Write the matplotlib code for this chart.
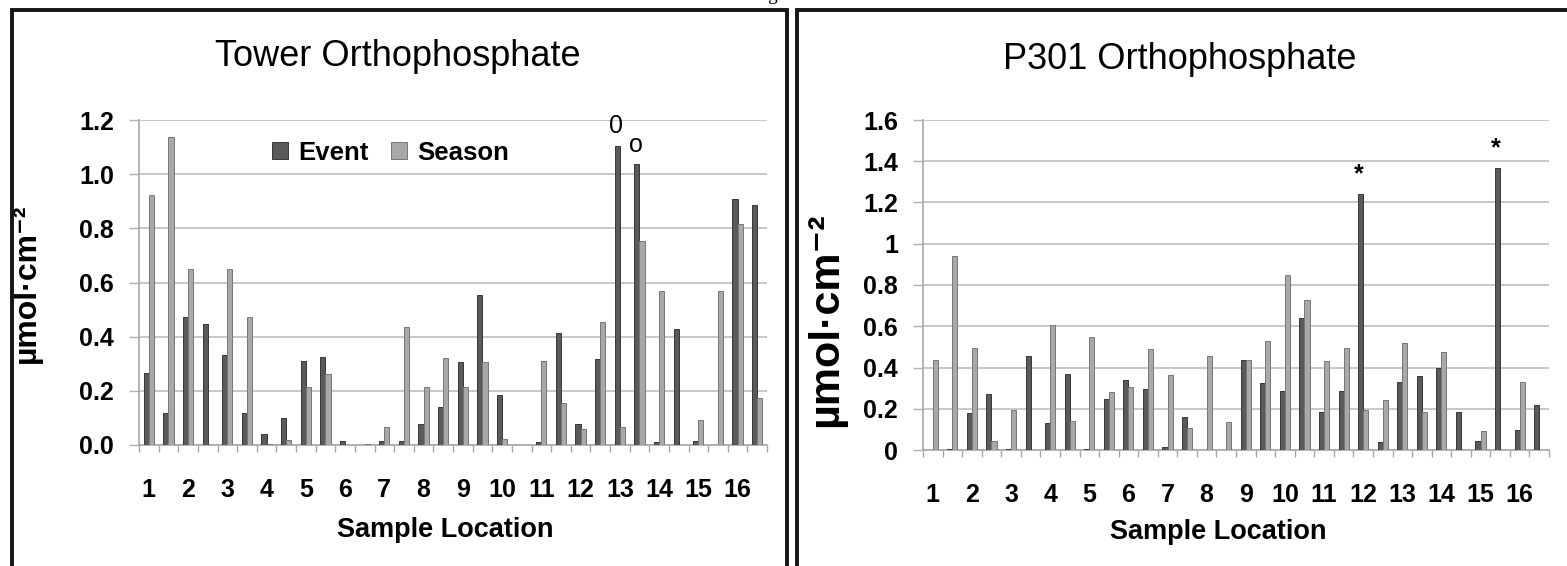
from __future__ import annotations

import matplotlib

matplotlib.use("Agg")
import matplotlib.pyplot as plt
import numpy as np
from matplotlib.patches import Rectangle
from matplotlib.ticker import FixedLocator, FuncFormatter

plt.rcParams["font.family"] = ["Liberation Sans", "DejaVu Sans"]

# 32 sampling positions, two per sample location (only every other one is labelled)
sample_labels = ["1", "2", "3", "4", "5", "6", "7", "8",
                 "9", "10", "11", "12", "13", "14", "15", "16"]

tower_event = [0.265, 0.117, 0.471, 0.447, 0.332, 0.117, 0.041, 0.098,
               0.311, 0.326, 0.016, 0.0, 0.016, 0.016, 0.076, 0.139,
               0.306, 0.554, 0.185, 0.0, 0.012, 0.415, 0.078, 0.316,
               1.105, 1.036, 0.012, 0.428, 0.015, 0.0, 0.907, 0.886]
tower_season = [0.923, 1.138, 0.650, 0.0, 0.650, 0.471, 0.005, 0.018,
                0.215, 0.262, 0.0, 0.005, 0.065, 0.437, 0.215, 0.320,
                0.215, 0.305, 0.022, 0.0, 0.311, 0.154, 0.059, 0.453,
                0.068, 0.753, 0.569, 0.0, 0.092, 0.569, 0.815, 0.172]
tower_flags = {24: "0", 25: "o"}

p301_event = [0.0, 0.003, 0.178, 0.270, 0.003, 0.457, 0.129, 0.368,
              0.003, 0.246, 0.339, 0.296, 0.013, 0.162, 0.0, 0.0,
              0.436, 0.326, 0.288, 0.638, 0.186, 0.288, 1.240, 0.040,
              0.331, 0.359, 0.400, 0.186, 0.045, 1.369, 0.097, 0.218]
p301_season = [0.436, 0.942, 0.493, 0.045, 0.194, 0.0, 0.606, 0.142,
               0.550, 0.283, 0.304, 0.488, 0.364, 0.105, 0.457, 0.134,
               0.436, 0.530, 0.849, 0.727, 0.433, 0.493, 0.194, 0.242,
               0.517, 0.186, 0.474, 0.0, 0.092, 0.0, 0.331, 0.0]
p301_flags = {22: "*", 29: "*"}

W, H = 1567, 566
DARK, DARK_EDGE = "#5a5a5a", "#383838"
LIGHT, LIGHT_EDGE = "#a8a8a8", "#787878"
GRID = "#c4c4c4"
UNIT = "µmol·cm⁻²"


def _fig_rect(px_left, px_top, px_right, px_bottom):
    return [px_left / W, 1 - px_bottom / H, (px_right - px_left) / W, (px_bottom - px_top) / H]


def draw_panel(fig, rect, event, season, flags, ymax, yfmt, title, title_x, title_y,
               ylabel_size, legend=False):
    ax = fig.add_axes(rect)
    x = np.arange(len(event))
    w = 0.26
    ax.bar(x - w / 2, event, w, color=DARK, edgecolor=DARK_EDGE, linewidth=0.7,
           label="Event", zorder=3)
    ax.bar(x + w / 2, season, w, color=LIGHT, edgecolor=LIGHT_EDGE, linewidth=0.7,
           label="Season", zorder=3)

    for idx, mark in flags.items():
        ax.annotate(mark, xy=(idx - w / 2, event[idx]), xytext=(-1, 14),
                    textcoords="offset points", ha="center", va="center",
                    fontsize=18, fontweight="bold" if mark == "*" else "normal")

    ax.set_xlim(-0.5, len(event) - 0.5)
    ax.set_ylim(0, ymax)
    yt = np.arange(0, ymax + 0.01, 0.2)
    ax.yaxis.set_major_locator(FixedLocator(yt))
    ax.yaxis.set_major_formatter(FuncFormatter(yfmt))
    ax.yaxis.grid(True, color=GRID, linewidth=1.3, zorder=0)
    ax.set_axisbelow(True)

    ax.set_xticks(np.arange(0, len(event), 2))
    ax.set_xticklabels(sample_labels)
    ax.set_xticks(np.arange(-0.5, len(event)), minor=True)
    ax.tick_params(axis="x", which="major", length=0, pad=24, labelsize=18)
    ax.tick_params(axis="x", which="minor", length=5, width=1, color="#a8a8a8",
                   direction="out")
    ax.tick_params(axis="y", length=7, width=1, color="#b0b0b0", pad=11, labelsize=18)
    for lab in ax.get_xticklabels() + ax.get_yticklabels():
        lab.set_fontweight("bold")

    for side in ("top", "right"):
        ax.spines[side].set_visible(False)
    for side in ("left", "bottom"):
        ax.spines[side].set_color("#a8a8a8")
        ax.spines[side].set_linewidth(1.2)

    ax.set_title(title, x=title_x, y=title_y, fontsize=26, ha="center", va="baseline")
    ax.set_xlabel("Sample Location", fontsize=19.5, fontweight="bold")
    ax.set_ylabel(UNIT, fontsize=ylabel_size, fontweight="bold")

    if legend:
        ax.legend(loc="center left", bbox_to_anchor=(0.212, 0.90), ncol=2, frameon=False,
                  handlelength=0.6, handleheight=0.6, handletextpad=0.4,
                  columnspacing=0.9, borderpad=0, borderaxespad=0,
                  prop={"weight": "bold", "size": 18.5})
    return ax


def plot_orthophosphate():
    fig = plt.figure(figsize=(W / 100, H / 100), dpi=100)

    ax1 = draw_panel(fig, _fig_rect(139, 120, 767, 445), tower_event, tower_season,
                     tower_flags, 1.2, lambda v, _: f"{v:.1f}",
                     "Tower Orthophosphate", 0.412, (445 - 74) / 325, 23, legend=True)
    ax1.xaxis.set_label_coords((445 - 139) / 628, -(530 - 445) / 325)
    ax1.xaxis.label.set_va("center")
    ax1.yaxis.set_label_coords(-(139 - 42) / 628, (445 - 283) / 325)

    ax2 = draw_panel(fig, _fig_rect(923, 120, 1549, 450), p301_event, p301_season,
                     p301_flags, 1.6, lambda v, _: f"{v:g}",
                     "P301 Orthophosphate", 0.41, (450 - 77) / 330, 31)
    ax2.xaxis.set_label_coords((1218 - 923) / 626, -(532 - 450) / 330)
    ax2.xaxis.label.set_va("center")
    ax2.yaxis.set_label_coords(-(923 - 846) / 626, (450 - 320) / 330)

    # panel frames
    frame = dict(fill=False, edgecolor="#151515", linewidth=2.8,
                 transform=fig.transFigure, clip_on=False)
    fig.add_artist(Rectangle((12.5 / W, -0.2), (786.5 - 12.5) / W, 1.2 - 9.5 / H, **frame))
    fig.add_artist(Rectangle((796.5 / W, -0.2), 1.0, 1.2 - 9.5 / H, **frame))

    fig.text(772 / W, 1.0, "g", family="Liberation Serif", fontsize=14,
             ha="center", va="baseline")
    return fig


def main() -> None:
    fig = plot_orthophosphate()
    fig.savefig("out.png", dpi=100)


if __name__ == "__main__":
    main()
